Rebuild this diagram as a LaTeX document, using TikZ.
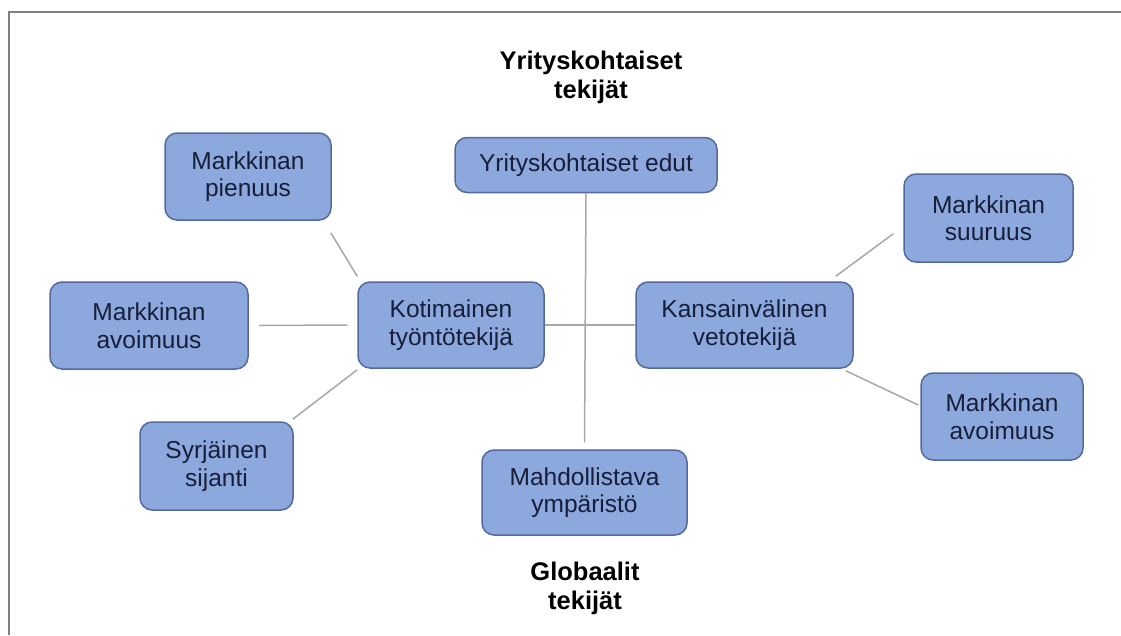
\documentclass[tikz,border=0pt]{standalone}
\usepackage{fontspec}
\setmainfont{Liberation Sans}
\usetikzlibrary{calc}
\definecolor{boxfill}{RGB}{141,168,220}
\definecolor{boxline}{RGB}{84,106,158}
\definecolor{boxtext}{RGB}{22,30,58}
\definecolor{connc}{RGB}{168,168,168}
\definecolor{framec}{RGB}{128,128,128}
\begin{document}
\begin{tikzpicture}[x=1pt,y=1pt,
  box/.style={draw=boxline, fill=boxfill, line width=1.5pt, rounded corners=12pt,
    text=boxtext, align=center, font=\fontsize{24.5}{27.5}\selectfont, inner sep=0pt},
  conn/.style={draw=connc, line width=1.5pt},
  ttl/.style={align=center, font=\bfseries\fontsize{25.5}{29}\selectfont, text=black, inner sep=0pt},
  framel/.style={draw=framec, line width=2pt}]
\useasboundingbox (0,0) rectangle (1121,-635);
\fill[white] (0,0) rectangle (1121,-635);
\draw[framel] (8.5,-635) -- (8.5,-11.5) -- (1121,-11.5);

\node[ttl] (ttop) at (591,-77) {Yrityskohtaiset\\tekijät};
\node[ttl] (tbot) at (585,-588) {Globaalit\\tekijät};

\node[box, minimum width=166pt, minimum height=87pt] (pien) at (248,-176.5) {Markkinan\\pienuus};
\node[box, minimum width=262pt, minimum height=55pt] (edut) at (586,-165) {Yrityskohtaiset edut};
\node[box, minimum width=169pt, minimum height=88pt] (suu) at (988.5,-218) {Markkinan\\suuruus};
\node[box, minimum width=217pt, minimum height=86pt] (kans) at (744.5,-325) {Kansainvälinen\\vetotekijä};
\node[box, minimum width=162pt, minimum height=87pt] (avoR) at (1002,-416.5) {Markkinan\\avoimuus};
\node[box, minimum width=198pt, minimum height=87pt] (avoL) at (149,-325.5) {Markkinan\\avoimuus};
\node[box, minimum width=153pt, minimum height=88pt] (syr) at (216.5,-466) {Syrjäinen\\sijanti};
\node[box, minimum width=186pt, minimum height=86pt] (kot) at (451,-325) {Kotimainen\\työntötekijä};
\node[box, minimum width=205pt, minimum height=85pt] (mah) at (584.5,-492.5) {Mahdollistava\\ympäristö};

\draw[conn] (edut.south) -- ([yshift=7pt]mah.north);
\draw[conn] (kot.east) -- (kans.west);
\draw[conn] ([yshift=5pt]kot.north west) -- ([shift={(-1pt,-12pt)}]pien.south east);
\draw[conn] ([xshift=-10pt]kot.west) -- ([xshift=10pt]avoL.east);
\draw[conn] ([shift={(0pt,-1pt)}]kot.south west) -- ([shift={(-1pt,2pt)}]syr.north east);
\draw[conn] ([shift={(-18pt,5pt)}]kans.north east) -- ([shift={(-10pt,29pt)}]suu.south west);
\draw[conn] ([shift={(-8pt,-2pt)}]kans.south east) -- ([shift={(-2pt,11.5pt)}]avoR.west);
\end{tikzpicture}
\end{document}
